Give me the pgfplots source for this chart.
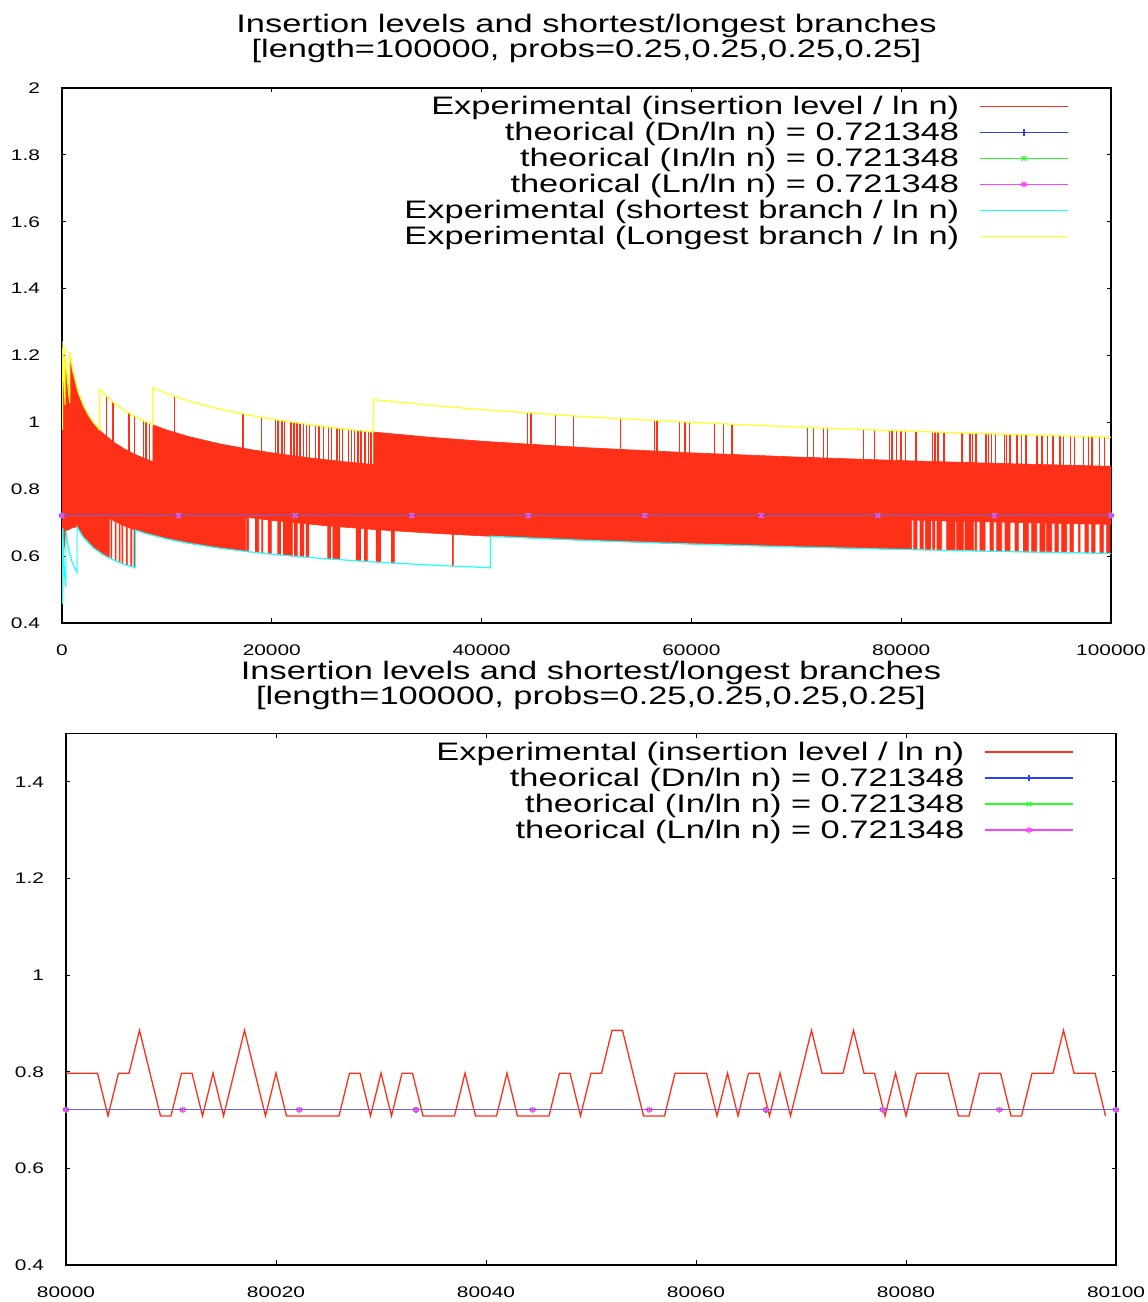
\documentclass[border=0pt]{standalone}
\usepackage{pgfplots}
\pgfplotsset{compat=1.18}
\usepackage{fontspec}
\setmainfont{Liberation Sans}[FakeStretch=1.36]
\definecolor{redc}{RGB}{255,48,24}
\definecolor{bluec}{RGB}{40,64,255}
\definecolor{greenc}{RGB}{40,255,40}
\definecolor{magc}{RGB}{255,64,255}
\definecolor{cyanc}{RGB}{32,255,255}
\definecolor{yelc}{RGB}{255,255,32}
\newcommand\ttl{\fontsize{12.7}{14}\selectfont}
\newcommand\tck{\fontsize{7.7}{9}\selectfont}
\pgfplotsset{
  common/.style={
    scale only axis,
    scaled x ticks=false, scaled y ticks=false,
    axis line style={line width=0.65bp},
    tick style={black, line width=0.5bp},
    major tick length=2.25bp,
    tick align=inside,
    xtick pos=both, ytick pos=both,
    tick label style={font=\tck, inner sep=0pt},
    xticklabel style={yshift=-10.5bp},
    yticklabel style={xshift=-10.8bp},
    legend cell align=right,
    legend plot pos=right,
    legend style={draw=none, fill=none, inner sep=0pt, font=\ttl,
      column sep=10bp, row sep=0pt,
      nodes={inner sep=0pt, text height=9.5bp, text depth=3.5bp},
      at={(1,1)}, anchor=north east, xshift=-21bp, yshift=-3.5bp},
    legend image code/.code={\draw[mark repeat=2, mark phase=2, ##1, draw opacity=1] plot coordinates {(0bp,1bp) (22bp,1bp) (44bp,1bp)};},
  },
  theo/.style={line width=0.6bp, mark size=1.6bp, mark options={solid, draw opacity=1}},
}
\begin{document}
\begin{tikzpicture}
\useasboundingbox (0,0) rectangle (574bp,651bp);
% ================= TOP =================
\begin{axis}[common, at={(31bp,339.5bp)}, anchor=south west,
  width=524.5bp, height=267.5bp,
  xmin=0, xmax=100000, ymin=0.4, ymax=2,
  xtick={0,20000,40000,60000,80000,100000},
  xticklabels={0,20000,40000,60000,80000,100000},
  ytick={0.4,0.6,0.8,1,1.2,1.4,1.6,1.8,2},
  yticklabels={0.4,0.6,0.8,1,1.2,1.4,1.6,1.8,2}]
% red: spikes reaching the longest-branch level
\addplot[redc, line width=0.7bp, line join=bevel] table {
4220 0.84
4220 1.07887
4220 0.84
4860 0.84
4860 1.06067
4860 0.84
6380 0.84
6380 1.02770
6380 0.84
6910 0.84
6910 1.01815
6910 0.84
7770 0.84
7770 1.00490
7770 0.84
8020 0.84
8020 1.00115
8020 0.84
8340 0.84
8340 0.99691
8340 0.84
10700 0.84
10700 1.07836
10700 0.84
17250 0.84
17250 1.02544
17250 0.84
19030 0.84
19030 1.01517
19030 0.84
20350 0.84
20350 1.00822
20350 0.84
20600 0.84
20600 1.00691
20600 0.84
20980 0.84
20980 1.00491
20980 0.84
21200 0.84
21200 1.00391
21200 0.84
21840 0.84
21840 1.00107
21840 0.84
22100 0.84
22100 0.99992
22100 0.84
22400 0.84
22400 0.99859
22400 0.84
22700 0.84
22700 0.99726
22700 0.84
23040 0.84
23040 0.99575
23040 0.84
23300 0.84
23300 0.99460
23300 0.84
23570 0.84
23570 0.99340
23570 0.84
24150 0.84
24150 0.99092
24150 0.84
24500 0.84
24500 0.98958
24500 0.84
24940 0.84
24940 0.98791
24940 0.84
25410 0.84
25410 0.98611
25410 0.84
25700 0.84
25700 0.98501
25700 0.84
26200 0.84
26200 0.98310
26200 0.84
26450 0.84
26450 0.98215
26450 0.84
26740 0.84
26740 0.98104
26740 0.84
27310 0.84
27310 0.97901
27310 0.84
27600 0.84
27600 0.97803
27600 0.84
27880 0.84
27880 0.97709
27880 0.84
28200 0.84
28200 0.97602
28200 0.84
28510 0.84
28510 0.97498
28510 0.84
28900 0.84
28900 0.97367
28900 0.84
29210 0.84
29210 0.97263
29210 0.84
29450 0.84
29450 0.97182
29450 0.84
44400 0.84
44400 1.02864
44400 0.84
44700 0.84
44700 1.02800
44700 0.84
47070 0.84
47070 1.02293
47070 0.84
48770 0.84
48770 1.01929
48770 0.84
53260 0.84
53260 1.01117
53260 0.84
56490 0.84
56490 1.00572
56490 0.84
56730 0.84
56730 1.00531
56730 0.84
58870 0.84
58870 1.00171
58870 0.84
59390 0.84
59390 1.00083
59390 0.84
59800 0.84
59800 1.00014
59800 0.84
62210 0.84
62210 0.99676
62210 0.84
63070 0.84
63070 0.99557
63070 0.84
63880 0.84
63880 0.99445
63880 0.84
71070 0.84
71070 0.98475
71070 0.84
71650 0.84
71650 0.98407
71650 0.84
72600 0.84
72600 0.98297
72600 0.84
72980 0.84
72980 0.98252
72980 0.84
76420 0.84
76420 0.97851
76420 0.84
77440 0.84
77440 0.97732
77440 0.84
78870 0.84
78870 0.97565
78870 0.84
79140 0.84
79140 0.97534
79140 0.84
79540 0.84
79540 0.97487
79540 0.84
79990 0.84
79990 0.97434
79990 0.84
80400 0.84
80400 0.97393
80400 0.84
81420 0.84
81420 0.97290
81420 0.84
82980 0.84
82980 0.97133
82980 0.84
83220 0.84
83220 0.97109
83220 0.84
83500 0.84
83500 0.97080
83500 0.84
84070 0.84
84070 0.97024
84070 0.84
85780 0.84
85780 0.96852
85780 0.84
86560 0.84
86560 0.96774
86560 0.84
86800 0.84
86800 0.96750
86800 0.84
87140 0.84
87140 0.96715
87140 0.84
88100 0.84
88100 0.96619
88100 0.84
88330 0.84
88330 0.96596
88330 0.84
88600 0.84
88600 0.96569
88600 0.84
89010 0.84
89010 0.96528
89010 0.84
89860 0.84
89860 0.96442
89860 0.84
90030 0.84
90030 0.96425
90030 0.84
90370 0.84
90370 0.96395
90370 0.84
91050 0.84
91050 0.96335
91050 0.84
91460 0.84
91460 0.96299
91460 0.84
91910 0.84
91910 0.96259
91910 0.84
92930 0.84
92930 0.96169
92930 0.84
93440 0.84
93440 0.96124
93440 0.84
93950 0.84
93950 0.96079
93950 0.84
94460 0.84
94460 0.96034
94460 0.84
95140 0.84
95140 0.95974
95140 0.84
95480 0.84
95480 0.95944
95480 0.84
96160 0.84
96160 0.95884
96160 0.84
96500 0.84
96500 0.95854
96500 0.84
97350 0.84
97350 0.95779
97350 0.84
97870 0.84
97870 0.95733
97870 0.84
98200 0.84
98200 0.95704
98200 0.84
98890 0.84
98890 0.95643
98890 0.84
99390 0.84
99390 0.95599
99390 0.84
};
\addlegendentry{Experimental (insertion level / ln n)}
% red: dense core band
\addplot[fill=redc, draw=redc, line width=0.3bp, forget plot] table {
5 1.20
60 0.97
60 1.20
300 1.05
300 1.20
748 1.055
748 1.2089
1000 1.1581
1500 1.0939
2000 1.0525
2500 1.0225
3000 0.9992
3594 0.97716
4000 0.96455
5000 0.93928
6000 0.91959
7000 0.90358
8000 0.89015
8656 0.88242
8656 0.99272
10000 0.97716
12000 0.95819
15000 0.93596
18000 0.91854
21000 0.90432
24000 0.89234
27000 0.88204
29700 0.87388
29700 0.97098
35000 0.95574
40000 0.94370
50000 0.92423
60000 0.90892
70000 0.89636
80000 0.88575
90000 0.87661
100000 0.86859
100000 0.69487
90000 0.70129
81000 0.70788
81000 0.61939
80000 0.62003
70000 0.62745
60000 0.63624
50000 0.64696
40840 0.65929
40000 0.66059
35000 0.66902
30000 0.67902
25000 0.69125
20000 0.70682
17500 0.71648
17500 0.6143
15000 0.62397
12000 0.63880
10000 0.65144
8000 0.66762
7007 0.67760
6000 0.68969
5000 0.70446
4500 0.71328
4500 0.5949
4000 0.60284
3000 0.62450
2000 0.65782
1440 0.68753
1000 0.685
700 0.68
370 0.676
190 0.62
80 0.60
20 0.55
5 0.50
};
% red: columns reaching the shortest-branch level
\addplot[fill=redc, draw=redc, line width=0.35bp, forget plot] table {
4660 0.76
4660 0.59179
4740 0.59179
4740 0.76
5070 0.76
5070 0.58570
5150 0.58570
5150 0.76
5450 0.76
5450 0.58102
5530 0.58102
5530 0.76
5710 0.76
5710 0.57782
5790 0.57782
5790 0.76
6150 0.76
6150 0.57284
6230 0.57284
6230 0.76
6560 0.76
6560 0.56874
6640 0.56874
6640 0.76
6870 0.76
6870 0.56564
6950 0.56564
6950 0.76
17600 0.76
17600 0.61391
17800 0.61313
17800 0.76
18450 0.76
18450 0.61094
18750 0.60999
18750 0.76
19050 0.76
19050 0.60904
19150 0.60872
19150 0.76
19650 0.76
19650 0.60715
19950 0.60620
19950 0.76
20570 0.76
20570 0.60424
20830 0.60342
20830 0.76
21110 0.76
21110 0.60259
21470 0.60166
21470 0.76
21530 0.76
21530 0.60150
21950 0.60041
21950 0.76
22160 0.76
22160 0.59987
22420 0.59920
22420 0.76
22700 0.76
22700 0.59847
23050 0.59756
23050 0.76
23270 0.76
23270 0.59699
23530 0.59631
23530 0.76
25340 0.76
25340 0.59179
25600 0.59124
25600 0.76
25820 0.76
25820 0.59078
26490 0.58938
26490 0.76
28040 0.76
28040 0.58614
28460 0.58526
28460 0.76
28830 0.76
28830 0.58449
29100 0.58392
29100 0.76
29950 0.76
29950 0.58212
30360 0.58140
30360 0.76
31420 0.76
31420 0.57958
31680 0.57914
31680 0.76
37230 0.76
37230 0.57026
37310 0.57015
37310 0.76
81200 0.76
81200 0.61926
81500 0.61907
81500 0.76
81800 0.76
81800 0.61888
82100 0.61869
82100 0.76
82300 0.76
82300 0.61856
82800 0.61824
82800 0.76
83000 0.76
83000 0.61811
83200 0.61798
83200 0.76
83400 0.76
83400 0.61785
83860 0.61755
83860 0.76
84340 0.76
84340 0.61725
85130 0.61675
85130 0.76
85290 0.76
85290 0.61664
85920 0.61624
85920 0.76
86080 0.76
86080 0.61614
86880 0.61563
86880 0.76
87040 0.76
87040 0.61552
87200 0.61542
87200 0.76
87510 0.76
87510 0.61522
87990 0.61492
87990 0.76
88470 0.76
88470 0.61461
88780 0.61441
88780 0.76
89100 0.76
89100 0.61421
89580 0.61390
89580 0.76
89900 0.76
89900 0.61369
90370 0.61342
90370 0.76
90850 0.76
90850 0.61315
91170 0.61297
91170 0.76
91650 0.76
91650 0.61270
92120 0.61244
92120 0.76
92440 0.76
92440 0.61226
92920 0.61199
92920 0.76
93230 0.76
93230 0.61181
93710 0.61155
93710 0.76
93870 0.76
93870 0.61146
94350 0.61119
94350 0.76
94660 0.76
94660 0.61101
94980 0.61083
94980 0.76
95300 0.76
95300 0.61065
95780 0.61038
95780 0.76
96090 0.76
96090 0.61021
96410 0.61003
96410 0.76
96890 0.76
96890 0.60976
97050 0.60967
97050 0.76
97520 0.76
97520 0.60940
97840 0.60922
97840 0.76
98160 0.76
98160 0.60904
98480 0.60886
98480 0.76
98950 0.76
98950 0.60860
99270 0.60842
99270 0.76
99590 0.76
99590 0.60824
99910 0.60806
99910 0.76
};
\addplot[bluec, theo, mark=+] coordinates {(0,0.721348) (11111.1,0.721348) (22222.2,0.721348) (33333.3,0.721348) (44444.4,0.721348) (55555.6,0.721348) (66666.7,0.721348) (77777.8,0.721348) (88888.9,0.721348) (100000,0.721348)};
\addlegendentry{theorical (Dn/ln n) = 0.721348}
\addplot[greenc, theo, draw opacity=0.3, mark=x] coordinates {(0,0.721348) (11111.1,0.721348) (22222.2,0.721348) (33333.3,0.721348) (44444.4,0.721348) (55555.6,0.721348) (66666.7,0.721348) (77777.8,0.721348) (88888.9,0.721348) (100000,0.721348)};
\addlegendentry{theorical (In/ln n) = 0.721348}
\addplot[magc, theo, draw opacity=0.35, mark=asterisk] coordinates {(0,0.721348) (11111.1,0.721348) (22222.2,0.721348) (33333.3,0.721348) (44444.4,0.721348) (55555.6,0.721348) (66666.7,0.721348) (77777.8,0.721348) (88888.9,0.721348) (100000,0.721348)};
\addlegendentry{theorical (Ln/ln n) = 0.721348}
% shortest branch / ln n
\addplot[cyanc, line width=0.6bp] table {
20 0.6676
60 0.4885
80 0.4564
80 0.6846
150 0.5987
250 0.5433
370 0.5073
370 0.67642
500 0.64365
700 0.61059
1000 0.57906
1440 0.55003
1440 0.68753
2000 0.65782
3000 0.62450
4000 0.60284
5000 0.58705
6000 0.57474
7007 0.56467
7007 0.67760
8000 0.66762
10000 0.65144
12000 0.63880
15000 0.62397
18000 0.61236
21000 0.60288
25000 0.59250
30000 0.58202
35000 0.57344
40840 0.56511
40840 0.65929
50000 0.64696
60000 0.63624
70000 0.62745
80000 0.62003
90000 0.61363
100000 0.60801
};
\addlegendentry{Experimental (shortest branch / ln n)}
% longest branch / ln n
\addplot[yelc, line width=0.6bp] table {
5 1.2427
60 0.9770
60 1.2212
300 1.0517
300 1.2273
500 1.1264
748 1.0578
748 1.2089
1000 1.1581
1500 1.0939
2000 1.0525
2500 1.0225
3000 0.9992
3594 0.97716
3594 1.09930
4000 1.08512
5000 1.05669
6000 1.03454
7000 1.01653
8000 1.00142
8656 0.99272
8656 1.10302
10000 1.08574
12000 1.06466
15000 1.03996
18000 1.02060
21000 1.00480
24000 0.99149
27000 0.98005
29700 0.97098
29700 1.06807
35000 1.05132
40000 1.03806
50000 1.01666
60000 0.99981
70000 0.98600
80000 0.97433
90000 0.96428
100000 0.95545
};
\addlegendentry{Experimental (Longest branch / ln n)}
\end{axis}
% ================= BOTTOM =================
\begin{axis}[common, at={(33bp,18.5bp)}, anchor=south west,
  width=525bp, height=265.65bp,
  xmin=80000, xmax=80100, ymin=0.4, ymax=1.5,
  xtick={80000,80020,80040,80060,80080,80100},
  xticklabels={80000,80020,80040,80060,80080,80100},
  ytick={0.4,0.6,0.8,1,1.2,1.4},
  yticklabels={0.4,0.6,0.8,1,1.2,1.4}]
\addplot[redc, line width=0.65bp] coordinates {
(80000,0.79718) (80001,0.79718) (80002,0.79718) (80003,0.79718) (80004,0.70860)
(80005,0.79718) (80006,0.79718) (80007,0.88576) (80008,0.79718) (80009,0.70860)
(80010,0.70860) (80011,0.79718) (80012,0.79718) (80013,0.70860) (80014,0.79718)
(80015,0.70860) (80016,0.79718) (80017,0.88576) (80018,0.79718) (80019,0.70860)
(80020,0.79718) (80021,0.70860) (80022,0.70860) (80023,0.70860) (80024,0.70860)
(80025,0.70860) (80026,0.70860) (80027,0.79718) (80028,0.79718) (80029,0.70860)
(80030,0.79718) (80031,0.70860) (80032,0.79718) (80033,0.79718) (80034,0.70860)
(80035,0.70860) (80036,0.70860) (80037,0.70860) (80038,0.79718) (80039,0.70860)
(80040,0.70860) (80041,0.70860) (80042,0.79718) (80043,0.70860) (80044,0.70860)
(80045,0.70860) (80046,0.70860) (80047,0.79718) (80048,0.79718) (80049,0.70860)
(80050,0.79718) (80051,0.79718) (80052,0.88576) (80053,0.88576) (80054,0.79718)
(80055,0.70860) (80056,0.70860) (80057,0.70860) (80058,0.79718) (80059,0.79718)
(80060,0.79718) (80061,0.79718) (80062,0.70860) (80063,0.79718) (80064,0.70860)
(80065,0.79718) (80066,0.79718) (80067,0.70860) (80068,0.79718) (80069,0.70860)
(80070,0.79718) (80071,0.88576) (80072,0.79718) (80073,0.79718) (80074,0.79718)
(80075,0.88576) (80076,0.79718) (80077,0.79718) (80078,0.70860) (80079,0.79718)
(80080,0.70860) (80081,0.79718) (80082,0.79718) (80083,0.79718) (80084,0.79718)
(80085,0.70860) (80086,0.70860) (80087,0.79718) (80088,0.79718) (80089,0.79718)
(80090,0.70860) (80091,0.70860) (80092,0.79718) (80093,0.79718) (80094,0.79718)
(80095,0.88576) (80096,0.79718) (80097,0.79718) (80098,0.79718) (80099,0.70860)
};
\addlegendentry{Experimental (insertion level / ln n)}
\addplot[bluec, theo, mark=+] coordinates {(80000,0.721348) (80011.11,0.721348) (80022.22,0.721348) (80033.33,0.721348) (80044.44,0.721348) (80055.56,0.721348) (80066.67,0.721348) (80077.78,0.721348) (80088.89,0.721348) (80100,0.721348)};
\addlegendentry{theorical (Dn/ln n) = 0.721348}
\addplot[greenc, theo, draw opacity=0.3, mark=x] coordinates {(80000,0.721348) (80011.11,0.721348) (80022.22,0.721348) (80033.33,0.721348) (80044.44,0.721348) (80055.56,0.721348) (80066.67,0.721348) (80077.78,0.721348) (80088.89,0.721348) (80100,0.721348)};
\addlegendentry{theorical (In/ln n) = 0.721348}
\addplot[magc, theo, draw opacity=0.35, mark=asterisk] coordinates {(80000,0.721348) (80011.11,0.721348) (80022.22,0.721348) (80033.33,0.721348) (80044.44,0.721348) (80055.56,0.721348) (80066.67,0.721348) (80077.78,0.721348) (80088.89,0.721348) (80100,0.721348)};
\addlegendentry{theorical (Ln/ln n) = 0.721348}
\end{axis}
% titles
\node[anchor=base, font=\ttl, inner sep=0pt] at (293.25bp,634.5bp) {Insertion levels and shortest/longest branches};
\node[anchor=base, font=\ttl, inner sep=0pt] at (293.25bp,622bp) {[length=100000, probs=0.25,0.25,0.25,0.25]};
\node[anchor=base, font=\ttl, inner sep=0pt] at (295.5bp,311bp) {Insertion levels and shortest/longest branches};
\node[anchor=base, font=\ttl, inner sep=0pt] at (295.5bp,298.5bp) {[length=100000, probs=0.25,0.25,0.25,0.25]};
\end{tikzpicture}
\end{document}
